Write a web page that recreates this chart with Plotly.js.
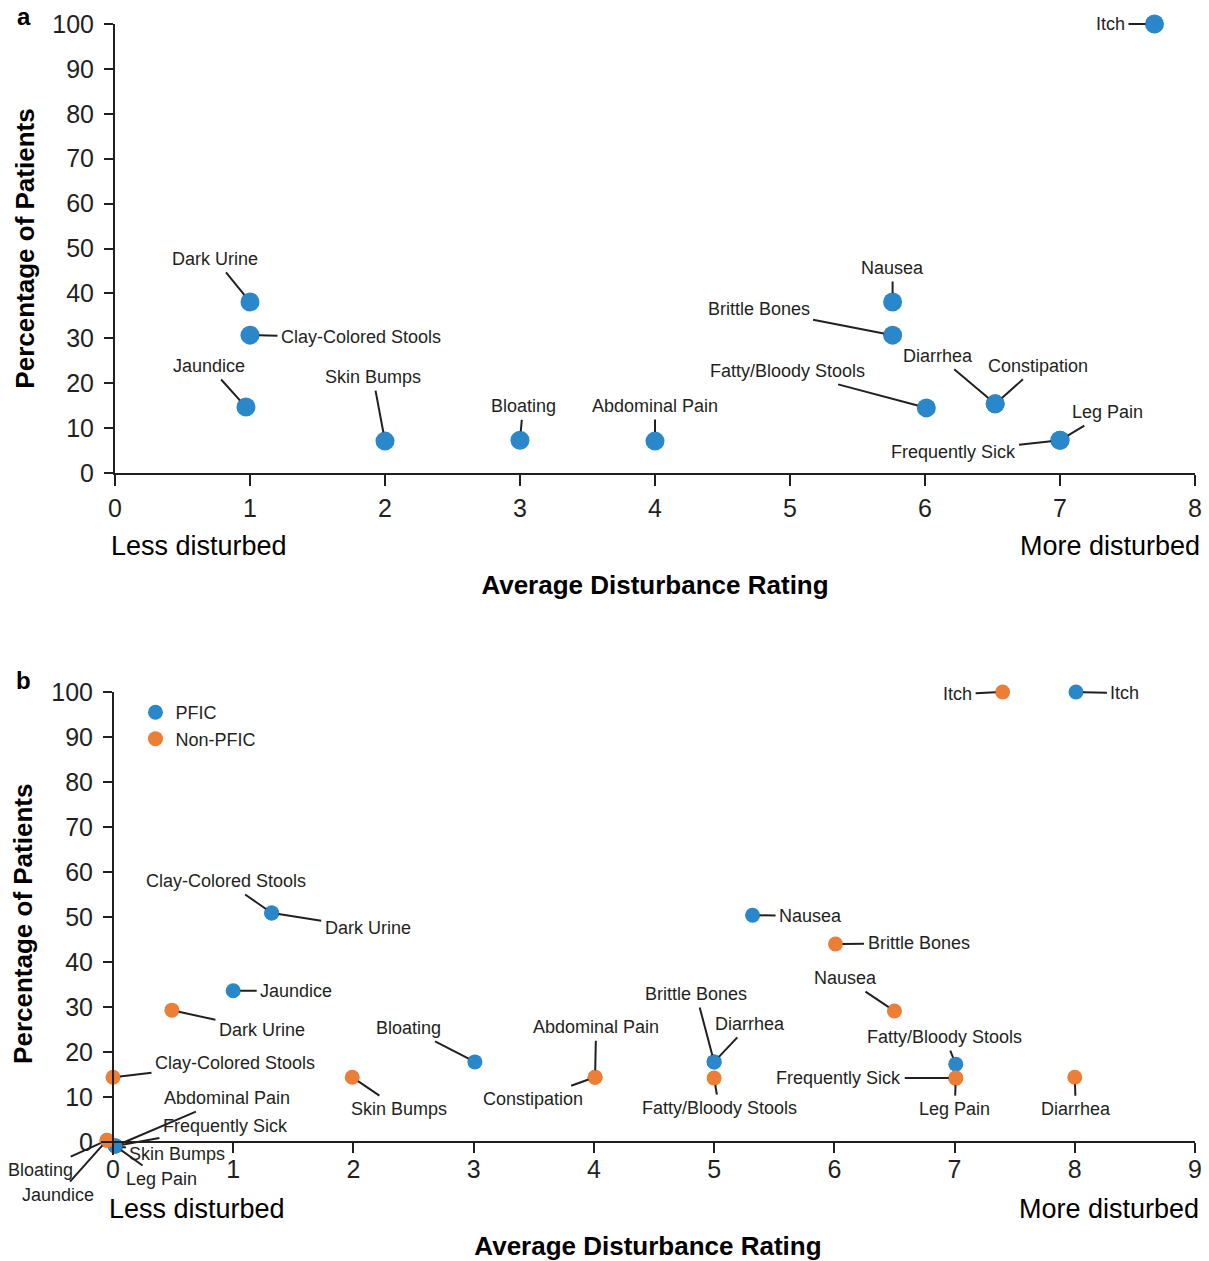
<!DOCTYPE html>
<html>
<head>
<meta charset="utf-8">
<script src="https://cdn.plot.ly/plotly-3.0.1.min.js"></script>
<style>html,body{margin:0;padding:0;background:#fff;}#chart{width:1209px;height:1261px;}</style>
</head>
<body>
<div id="chart"></div>
<script>
// ---------- Panel a: all patients ----------
const symptomsA = ["Itch","Dark Urine","Clay-Colored Stools","Jaundice","Skin Bumps","Bloating","Abdominal Pain","Nausea","Brittle Bones","Fatty/Bloody Stools","Diarrhea","Constipation","Leg Pain","Frequently Sick"];
const ratingA   = [7.70, 1.00, 1.00, 0.97, 2.00, 3.00, 4.00, 5.76, 5.76, 6.01, 6.52, 6.52, 7.00, 7.00];
const percentA  = [100, 38.1, 30.7, 14.7, 7.1, 7.3, 7.1, 38.1, 30.7, 14.5, 15.4, 15.4, 7.3, 7.3];

// ---------- Panel b: PFIC vs Non-PFIC ----------
const symptomsPFIC = ["Itch","Clay-Colored Stools","Dark Urine","Jaundice","Nausea","Bloating","Brittle Bones","Diarrhea","Fatty/Bloody Stools","Constipation","Abdominal Pain","Frequently Sick","Skin Bumps","Leg Pain"];
const ratingPFIC   = [8.01, 1.32, 1.32, 1.00, 5.32, 3.01, 5.00, 5.00, 7.01, 9.01, 0.02, 0.02, 0.02, 0.02];
const percentPFIC  = [100, 50.9, 50.9, 33.6, 50.4, 17.8, 17.8, 17.8, 17.3, 17.1, -0.9, -0.9, -0.9, -0.9];

const symptomsNon = ["Itch","Brittle Bones","Nausea","Dark Urine","Clay-Colored Stools","Skin Bumps","Abdominal Pain","Constipation","Fatty/Bloody Stools","Frequently Sick","Leg Pain","Diarrhea","Bloating","Jaundice"];
const ratingNon   = [7.40, 6.01, 6.50, 0.49, 0.00, 1.99, 4.01, 4.01, 5.00, 7.01, 7.01, 8.00, -0.05, -0.05];
const percentNon  = [100, 44.0, 29.1, 29.3, 14.4, 14.4, 14.4, 14.4, 14.2, 14.2, 14.2, 14.4, 0.4, 0.4];

// ---------- label offsets (pixels, text centre relative to point) ----------
const offA = [[-44,0],[-35,-43],[111,2],[-37,-41],[-12,-64],[3,-34],[0,-35],[0,-34],[-134,-26],[-139,-37],[-57,-48],[43,-38],[47,-28],[-107,12]];
const offPFIC = [[49,1],[-46,-32],[96,15],[63,0],[58,1],[-66,-34],[-18,-68],[36,-38],[-11,-27],[-49,-55],[112,-48],[110,-20],[62,8],[46,33]];
const offNon = [[-45,2],[83,-1],[-49,-33],[90,20],[122,-14],[47,32],[1,-50],[-62,22],[5,30],[-117,0],[-1,31],[1,32],[-66,30],[-49,55]];

const BLUE = '#2a87c9', ORANGE = '#ec7e35', INK = '#231f20';
const FONT = 'Liberation Sans, Arial, Helvetica, sans-serif';

function labels(names, xs, ys, offs, xref, yref, radius) {
  return names.map((n, i) => ({
    x: xs[i], y: ys[i], xref: xref, yref: yref, text: n,
    showarrow: true, arrowhead: 0, arrowwidth: 2, arrowcolor: INK,
    ax: offs[i][0], ay: offs[i][1], standoff: radius, borderpad: 3,
    font: {family: FONT, size: 18, color: INK}
  }));
}

const traces = [
  {x: ratingA, y: percentA, text: symptomsA, type: 'scatter', mode: 'markers', xaxis: 'x', yaxis: 'y',
   marker: {color: BLUE, size: 19}, cliponaxis: false, showlegend: false, hoverinfo: 'text'},
  {x: ratingPFIC, y: percentPFIC, text: symptomsPFIC, type: 'scatter', mode: 'markers', xaxis: 'x2', yaxis: 'y2',
   name: 'PFIC', marker: {color: BLUE, size: 15}, cliponaxis: false, hoverinfo: 'text'},
  {x: ratingNon, y: percentNon, text: symptomsNon, type: 'scatter', mode: 'markers', xaxis: 'x2', yaxis: 'y2',
   name: 'Non-PFIC', marker: {color: ORANGE, size: 15}, cliponaxis: false, hoverinfo: 'text'}
];

const axisCommon = {
  showline: true, linecolor: INK, linewidth: 2, ticks: 'outside', tickcolor: INK, tickwidth: 2,
  showgrid: false, zeroline: false, tickfont: {family: FONT, size: 25, color: INK}, fixedrange: true
};
const xTitle = {text: '<b>Average Disturbance Rating</b>', font: {family: FONT, size: 26, color: '#000'}};
const yTitle = {text: '<b>Percentage of Patients</b>', font: {family: FONT, size: 26, color: '#000'}};
const sideFont = {family: FONT, size: 27, color: '#000'};
const letterFont = {family: FONT, size: 24, color: '#000'};

const anns = [].concat(
  labels(symptomsA, ratingA, percentA, offA, 'x', 'y', 9),
  labels(symptomsPFIC, ratingPFIC, percentPFIC, offPFIC, 'x2', 'y2', 7),
  labels(symptomsNon, ratingNon, percentNon, offNon, 'x2', 'y2', 7),
  [
    {xref: 'x domain', yref: 'y domain', x: 0, y: 1, xanchor: 'center', yanchor: 'middle', xshift: -91, yshift: 8, text: '<b>a</b>', showarrow: false, font: letterFont},
    {xref: 'x2 domain', yref: 'y2 domain', x: 0, y: 1, xanchor: 'center', yanchor: 'middle', xshift: -77, yshift: 11, text: '<b>b</b>', showarrow: false, font: letterFont},
    {xref: 'x domain', yref: 'y domain', x: 0, y: 0, xanchor: 'left', yanchor: 'middle', xshift: -6, yshift: -73, text: 'Less disturbed', showarrow: false, font: sideFont},
    {xref: 'x domain', yref: 'y domain', x: 1, y: 0, xanchor: 'right', yanchor: 'middle', xshift: 7, yshift: -73, text: 'More disturbed', showarrow: false, font: sideFont},
    {xref: 'x2 domain', yref: 'y2 domain', x: 0, y: 0, xanchor: 'left', yanchor: 'middle', xshift: 6, yshift: -54, text: 'Less disturbed', showarrow: false, font: sideFont},
    {xref: 'x2 domain', yref: 'y2 domain', x: 1, y: 0, xanchor: 'right', yanchor: 'middle', xshift: 6, yshift: -54, text: 'More disturbed', showarrow: false, font: sideFont}
  ]
);

const layout = {
  width: 1209, height: 1261,
  margin: {l: 100, r: 14, t: 24, b: 105},
  paper_bgcolor: '#fff', plot_bgcolor: '#fff',
  font: {family: FONT, color: INK},
  showlegend: true,
  legend: {x: 0.0324, y: 0.4081, xanchor: 'left', yanchor: 'top', bgcolor: 'rgba(0,0,0,0)',
           font: {family: FONT, size: 18, color: INK}, tracegroupgap: 0},
  xaxis: Object.assign({}, axisCommon, {domain: [0.0137, 1], anchor: 'y', range: [0, 8], tick0: 0, dtick: 1, ticklen: 11, ticklabelstandoff: 1,
    title: Object.assign({standoff: 55}, xTitle)}),
  yaxis: Object.assign({}, axisCommon, {domain: [0.60336, 1], anchor: 'x', range: [0, 100], tick0: 0, dtick: 10, ticklen: 9, ticklabelstandoff: 5,
    title: Object.assign({standoff: 10}, yTitle)}),
  xaxis2: Object.assign({}, axisCommon, {domain: [0.000893, 1], anchor: 'free', position: 0.012367, range: [-0.1, 9], tick0: 0, dtick: 1, ticklen: 10, ticklabelstandoff: -5,
    title: Object.assign({standoff: 64}, xTitle)}),
  yaxis2: Object.assign({}, axisCommon, {domain: [0.000442, 0.409894], anchor: 'free', position: 0.011872, range: [-3, 100], tick0: 0, dtick: 10, ticklen: 9, ticklabelstandoff: 5,
    title: Object.assign({standoff: 10}, yTitle)}),
  annotations: anns
};

Plotly.newPlot('chart', traces, layout, {displayModeBar: false, staticPlot: true});
</script>
</body>
</html>
